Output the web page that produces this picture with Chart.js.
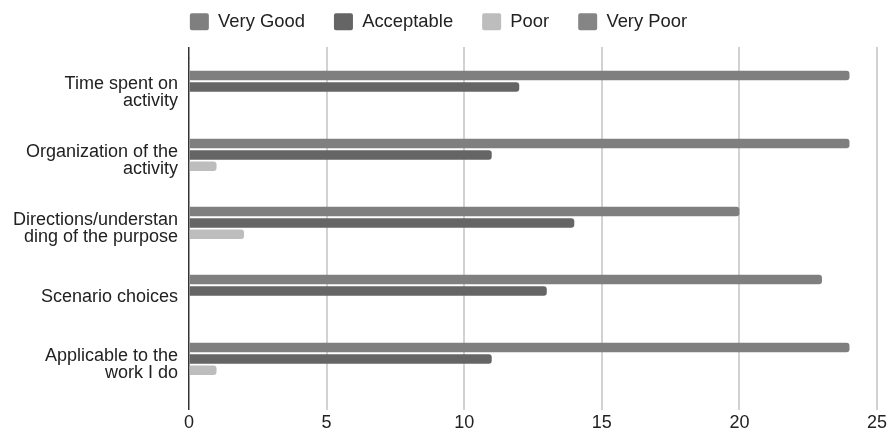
<!DOCTYPE html>
<html>
<head>
<meta charset="utf-8">
<script src="https://cdn.jsdelivr.net/npm/chart.js@4/dist/chart.umd.min.js"></script>
<style>
  html, body { margin: 0; padding: 0; background: #ffffff; }
  #wrap { width: 890px; height: 433px; position: relative; }
</style>
</head>
<body>
<div id="wrap"><canvas id="chart"></canvas></div>
<script>
// Survey feedback: number of responses per rating for each aspect of the activity
const categories = [
  ["Time spent on", "activity"],
  ["Organization of the", "activity"],
  ["Directions/understan", "ding of the purpose"],
  "Scenario choices",
  ["Applicable to the", "work I do"]
];
const seriesNames = ["Very Good", "Acceptable", "Poor", "Very Poor"];
const veryGood   = [24, 24, 20, 23, 24];
const acceptable = [12, 11, 14, 13, 11];
const poor       = [0, 1, 2, 0, 1];
const veryPoor   = [0, 0, 0, 0, 0];
const xTicks = [0, 5, 10, 15, 20, 25];

const seriesColors = ["#7f7f7f", "#656565", "#bdbdbd", "#858585"];
const seriesData = [veryGood, acceptable, poor, veryPoor];

const textColor = "#222222";
const fontFamily = "'Liberation Sans', Arial, sans-serif";
const gridColor = (c) => (c.tick && c.tick.value === 0) ? "#333333" : "#d2d2d2";
const gridWidth = (c) => (c.tick && c.tick.value === 0) ? 1.5 : 2;

const PLOT_TOP = 58.6, PLOT_BOTTOM = 398.6, PLOT_LEFT = 189;
const PAD_TOP = -16.5;

new Chart(document.getElementById("chart"), {
  type: "bar",
  data: {
    labels: categories,
    datasets: seriesNames.map((name, i) => ({
      label: name,
      data: seriesData[i],
      backgroundColor: seriesColors[i],
      borderWidth: 0,
      borderRadius: 3,
      categoryPercentage: 0.667,
      barPercentage: 0.84
    }))
  },
  options: {
    indexAxis: "y",
    responsive: true,
    maintainAspectRatio: false,
    animation: false,
    layout: { padding: { top: PAD_TOP, right: 13, bottom: 0, left: 0 } },
    plugins: {
      tooltip: { enabled: false },
      legend: {
        position: "top",
        align: "center",
        labels: {
          boxWidth: 19,
          boxHeight: 17,
          padding: 29,
          color: textColor,
          useBorderRadius: true,
          borderRadius: 2,
          font: { family: fontFamily, size: 18.4 }
        }
      }
    },
    scales: {
      x: {
        type: "linear",
        position: "bottom",
        min: xTicks[0],
        max: xTicks[xTicks.length - 1],
        afterBuildTicks: (s) => { s.ticks = xTicks.map(v => ({ value: v })); },
        ticks: {
          color: textColor,
          font: { family: fontFamily, size: 18 },
          padding: 2
        },
        grid: {
          color: gridColor,
          tickColor: gridColor,
          lineWidth: gridWidth,
          drawTicks: true,
          tickLength: 11.5
        },
        border: { display: false },
        afterFit: (s) => { s.height = 433 - PLOT_BOTTOM; }
      },
      xTop: {
        type: "linear",
        position: "top",
        min: xTicks[0],
        max: xTicks[xTicks.length - 1],
        afterBuildTicks: (s) => { s.ticks = xTicks.map(v => ({ value: v })); },
        ticks: { display: false },
        grid: {
          drawOnChartArea: false,
          color: gridColor,
          tickColor: gridColor,
          lineWidth: gridWidth,
          drawTicks: true,
          tickLength: 11.5
        },
        border: { display: false },
        afterFit: (s) => {
          const lg = s.chart.legend;
          const used = PAD_TOP + (lg ? lg.height : 0);
          s.height = Math.max(0, PLOT_TOP - used);
        }
      },
      y: {
        type: "category",
        grid: { display: false, drawTicks: false },
        border: { display: false },
        ticks: {
          color: textColor,
          padding: 11,
          font: { family: fontFamily, size: 18, lineHeight: 0.95 }
        },
        afterFit: (s) => { s.width = PLOT_LEFT; }
      }
    }
  }
});
</script>
</body>
</html>
